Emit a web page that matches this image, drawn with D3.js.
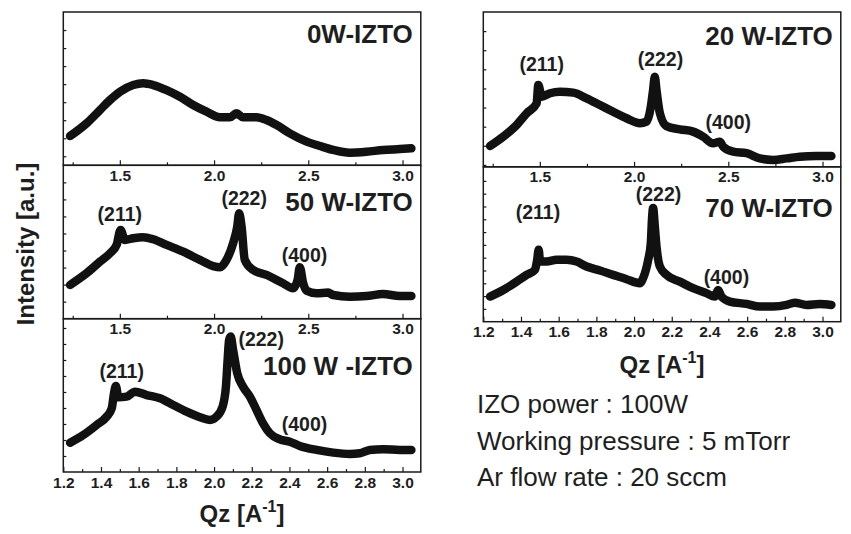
<!DOCTYPE html>
<html>
<head>
<meta charset="utf-8">
<script src="https://cdn.jsdelivr.net/npm/d3@7"></script>
<style>
  body { margin: 0; background: #fff; }
  svg text { font-family: "Liberation Sans", Arial, Helvetica, sans-serif; fill: #1e1e1e; }
</style>
</head>
<body>
<svg id="chart" width="851" height="534"></svg>
<script>
// ---- data (Qz in 1/A, intensity in arbitrary units) ----
const qz0W = [1.236, 1.324, 1.395, 1.448, 1.501, 1.571, 1.624, 1.677, 1.748, 1.819, 1.889, 1.960, 2.031, 2.084, 2.119, 2.154, 2.225, 2.278, 2.332, 2.402, 2.491, 2.561, 2.632, 2.720, 2.809, 2.897, 2.985, 3.047];
const int0W = [1.12, 1.83, 2.57, 3.12, 3.58, 3.95, 4.05, 3.95, 3.67, 3.30, 2.84, 2.47, 2.16, 2.16, 2.38, 2.16, 2.16, 2.01, 1.73, 1.27, 0.81, 0.57, 0.35, 0.20, 0.25, 0.35, 0.40, 0.44];

const qz50W = [1.236, 1.324, 1.395, 1.448, 1.483, 1.504, 1.527, 1.571, 1.624, 1.677, 1.748, 1.836, 1.925, 1.995, 2.031, 2.066, 2.101, 2.123, 2.133, 2.146, 2.163, 2.207, 2.278, 2.366, 2.419, 2.443, 2.455, 2.473, 2.491, 2.544, 2.605, 2.632, 2.720, 2.809, 2.897, 2.985, 3.047];
const int50W = [1.98, 2.67, 3.35, 3.84, 4.33, 5.21, 4.62, 4.72, 4.78, 4.66, 4.33, 3.93, 3.45, 3.09, 3.02, 3.45, 4.43, 5.40, 6.19, 5.40, 3.45, 2.86, 2.57, 2.08, 1.79, 2.27, 3.02, 2.08, 1.64, 1.49, 1.53, 1.39, 1.29, 1.33, 1.45, 1.33, 1.33];

const qz100W = [1.236, 1.306, 1.377, 1.430, 1.457, 1.469, 1.479, 1.492, 1.536, 1.580, 1.642, 1.713, 1.783, 1.854, 1.925, 1.978, 2.013, 2.045, 2.063, 2.072, 2.080, 2.088, 2.101, 2.123, 2.154, 2.190, 2.225, 2.260, 2.296, 2.349, 2.402, 2.455, 2.544, 2.632, 2.720, 2.773, 2.826, 2.897, 2.985, 3.047];
const int100W = [1.83, 2.31, 2.94, 3.46, 3.98, 4.92, 5.38, 4.67, 4.71, 5.02, 4.81, 4.61, 4.19, 3.77, 3.42, 3.25, 3.46, 4.08, 5.33, 7.00, 8.25, 8.46, 7.63, 6.17, 5.33, 4.71, 3.88, 3.04, 2.42, 2.04, 1.89, 1.63, 1.38, 1.21, 1.13, 1.17, 1.38, 1.42, 1.38, 1.38];

const qz20W = [1.236, 1.306, 1.377, 1.430, 1.483, 1.492, 1.510, 1.554, 1.607, 1.677, 1.748, 1.819, 1.889, 1.960, 2.031, 2.066, 2.089, 2.101, 2.110, 2.119, 2.137, 2.172, 2.243, 2.313, 2.366, 2.419, 2.455, 2.473, 2.526, 2.597, 2.667, 2.738, 2.809, 2.879, 2.968, 3.047];
const int20W = [0.99, 1.48, 2.09, 2.70, 3.22, 4.18, 3.57, 3.75, 3.83, 3.78, 3.48, 3.13, 2.78, 2.44, 2.18, 2.26, 3.04, 3.92, 4.61, 3.92, 2.70, 2.03, 1.86, 1.74, 1.48, 1.13, 1.21, 0.95, 0.69, 0.61, 0.34, 0.26, 0.34, 0.43, 0.47, 0.47];

const qz70W = [1.236, 1.306, 1.377, 1.430, 1.474, 1.486, 1.494, 1.501, 1.536, 1.589, 1.642, 1.695, 1.748, 1.819, 1.889, 1.960, 2.031, 2.048, 2.075, 2.089, 2.095, 2.101, 2.110, 2.119, 2.137, 2.172, 2.243, 2.313, 2.384, 2.428, 2.446, 2.464, 2.508, 2.597, 2.667, 2.738, 2.809, 2.852, 2.915, 2.985, 3.047];
const int70W = [1.96, 2.48, 3.13, 3.66, 4.05, 4.84, 5.62, 4.70, 4.70, 4.84, 4.84, 4.70, 4.31, 4.00, 3.66, 3.32, 3.01, 3.40, 4.84, 6.14, 7.97, 8.89, 7.45, 5.88, 4.31, 3.66, 3.13, 2.62, 2.23, 1.96, 2.48, 1.96, 1.57, 1.39, 1.18, 1.18, 1.31, 1.49, 1.31, 1.39, 1.31];

// peak annotations, anchored in data units (Qz, intensity) of each panel
const peakNames = ["(211)", "(222)", "(400)"];
const peakQz50W = [1.50, 2.16, 2.48], peakInt50W = [5.74, 6.65, 3.33];
const peakQz100W = [1.51, 2.25, 2.48], peakInt100W = [5.88, 7.85, 2.56];
const peakQz20W = [1.51, 2.14, 2.50], peakInt20W = [4.91, 5.17, 1.88];
const peakQz70W = [1.49, 2.13, 2.49], peakInt70W = [8.01, 9.45, 2.92];

const upperTicks = [1.5, 2.0, 2.5, 3.0];
const upperMinor = [1.25, 1.75, 2.25, 2.75];
const lowerTicks = [1.2, 1.4, 1.6, 1.8, 2.0, 2.2, 2.4, 2.6, 2.8, 3.0];
const lowerMinor = [1.3, 1.5, 1.7, 1.9, 2.1, 2.3, 2.5, 2.7, 2.9];

const notes = ["IZO power : 100W", "Working pressure : 5 mTorr", "Ar flow rate : 20 sccm"];

// ---- layout ----
const svg = d3.select("#chart");
const ink = "#1a1a1a";
const qzDomain = [1.2, 3.097];

const panels = [
  { title: "0W-IZTO", qz: qz0W, val: int0W, x0: 63.3, y0: 12, h: 153.3, yDom: [-0.5, 8], yTicks: d3.range(0, 8), titleDy: 31, lower: false },
  { title: "50 W-IZTO", qz: qz50W, val: int50W, x0: 63.3, y0: 165.3, h: 153.4, yDom: [0, 9], yTicks: d3.range(1, 9), titleDy: 46, lower: false,
    pq: peakQz50W, pv: peakInt50W },
  { title: "100 W -IZTO", qz: qz100W, val: int100W, x0: 63.3, y0: 318.7, h: 153.3, yDom: [0, 9.58], yTicks: d3.range(1, 10), titleDy: 56, lower: true,
    pq: peakQz100W, pv: peakInt100W },
  { title: "20 W-IZTO", qz: qz20W, val: int20W, x0: 483.3, y0: 12, h: 154.8, yDom: [-0.1, 8], yTicks: d3.range(0, 8), titleDy: 33, lower: false,
    pq: peakQz20W, pv: peakInt20W },
  { title: "70 W-IZTO", qz: qz70W, val: int70W, x0: 483.3, y0: 166.8, h: 154.9, yDom: [0, 12.1], yTicks: d3.range(1, 12), titleDy: 50, lower: true,
    pq: peakQz70W, pv: peakInt70W }
];
const pw = 357.5;

function styleAxis(sel) {
  sel.select(".domain").remove();
  sel.selectAll(".tick line").attr("stroke", ink).attr("stroke-width", 1.2);
  sel.selectAll(".tick text").attr("font-size", 15.5).attr("font-weight", "bold")
    .attr("font-family", "'Liberation Sans', Arial, sans-serif").attr("fill", ink);
}

panels.forEach(p => {
  const x = d3.scaleLinear().domain(qzDomain).range([0, pw]);
  const y = d3.scaleLinear().domain(p.yDom).range([p.h, 0]);
  const g = svg.append("g").attr("transform", `translate(${p.x0},${p.y0})`);

  // y ticks (inward, no labels)
  g.append("g").call(d3.axisLeft(y).tickValues(p.yTicks).tickSize(-3).tickFormat(""))
    .call(styleAxis);

  // x ticks
  const major = p.lower ? lowerTicks : upperTicks;
  const minor = p.lower ? lowerMinor : upperMinor;
  g.append("g").attr("transform", `translate(0,${p.h})`)
    .call(d3.axisBottom(x).tickValues(minor).tickSize(-3).tickFormat(""))
    .call(styleAxis);
  g.append("g").attr("transform", `translate(0,${p.h})`)
    .call(d3.axisBottom(x).tickValues(major).tickSize(-5).tickPadding(4.5).tickFormat(d3.format(".1f")))
    .call(styleAxis);

  // curve: thick run of square markers
  const line = d3.line().x(d => x(d[0])).y(d => y(d[1])).curve(d3.curveMonotoneX);
  g.append("path").datum(d3.zip(p.qz, p.val))
    .attr("d", line)
    .attr("fill", "none").attr("stroke", "#111")
    .attr("stroke-width", 8.5).attr("stroke-linejoin", "round").attr("stroke-linecap", "round");

  // frame
  g.append("rect").attr("width", pw).attr("height", p.h)
    .attr("fill", "none").attr("stroke", ink).attr("stroke-width", 1.5);

  // panel title
  g.append("text").attr("x", pw - 8).attr("y", p.titleDy)
    .attr("text-anchor", "end").attr("font-size", 26).attr("font-weight", "bold")
    .text(p.title);

  // peak labels
  if (p.pq) {
    g.selectAll(".peak").data(peakNames).join("text")
      .attr("class", "peak")
      .attr("x", (d, i) => x(p.pq[i])).attr("y", (d, i) => y(p.pv[i]))
      .attr("text-anchor", "middle").attr("font-size", 19.5).attr("font-weight", "bold")
      .text(d => d);
  }
});

// axis titles
function qzTitle(cx, by) {
  const t = svg.append("text").attr("x", cx).attr("y", by)
    .attr("text-anchor", "middle").attr("font-size", 24).attr("font-weight", "bold");
  t.append("tspan").text("Qz [A");
  t.append("tspan").attr("font-size", 16).attr("dy", -10).text("-1");
  t.append("tspan").attr("dy", 10).text("]");
}
qzTitle(242, 522);
qzTitle(662, 373);

svg.append("text")
  .attr("transform", "translate(34,244) rotate(-90)")
  .attr("text-anchor", "middle").attr("font-size", 24).attr("font-weight", "bold")
  .text("Intensity [a.u.]");

// process notes
svg.selectAll(".note").data(notes).join("text")
  .attr("class", "note")
  .attr("x", 477).attr("y", (d, i) => 413 + i * 36.7)
  .attr("font-size", 26)
  .text(d => d);
</script>
</body>
</html>
